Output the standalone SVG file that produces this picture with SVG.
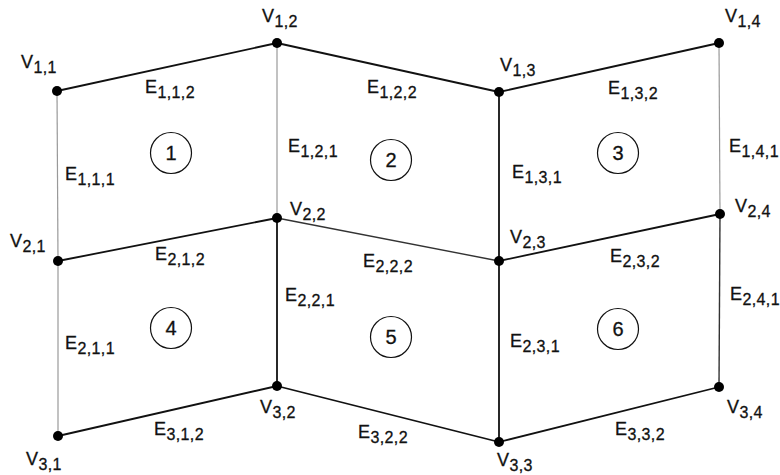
<svg xmlns="http://www.w3.org/2000/svg" width="780" height="475" viewBox="0 0 780 475">
<style>
  .e{stroke:#111;stroke-width:1.8;fill:none}
  .t{stroke:#999;stroke-width:1.2;fill:none}
  .d{stroke:#333;stroke-width:1.4;fill:none}
  .v{fill:#000}
  .lbl{font-family:"Liberation Sans",Arial,sans-serif;font-size:18px;fill:#111;stroke:#111;stroke-width:0.3;letter-spacing:0.4px}
  .sub{font-size:16px}
  .c{fill:none;stroke:#111;stroke-width:1.2}
  .n{font-family:"Liberation Sans",Arial,sans-serif;font-size:20px;fill:#111;stroke:#111;stroke-width:0.3;text-anchor:middle}
</style>
<rect width="780" height="475" fill="#fff"/>
<g id="connectors">
  <line class="e" x1="57" y1="91" x2="277" y2="43"/>
  <line class="e" x1="277" y1="43" x2="499" y2="92"/>
  <line class="e" x1="499" y1="92" x2="719" y2="43"/>
  <line class="e" x1="58" y1="261" x2="277" y2="218"/>
  <line class="d" x1="277" y1="218" x2="499" y2="261"/>
  <line class="e" x1="499" y1="261" x2="720" y2="214"/>
  <line class="e" x1="58" y1="436" x2="277" y2="386"/>
  <line class="e" x1="277" y1="386" x2="499" y2="442"/>
  <line class="e" x1="499" y1="442" x2="719" y2="387"/>
  <line class="t" x1="57" y1="91" x2="58" y2="261"/>
  <line class="t" x1="58" y1="261" x2="58" y2="436"/>
  <line class="t" x1="277" y1="43" x2="277" y2="218"/>
  <line class="e" x1="277" y1="218" x2="277" y2="386"/>
  <line class="e" x1="499" y1="92" x2="499" y2="261"/>
  <line class="e" x1="499" y1="261" x2="499" y2="442"/>
  <line class="t" x1="719" y1="43" x2="720" y2="214"/>
  <line class="d" x1="720" y1="214" x2="719" y2="387"/>
</g>
<g id="edge-labels">
  <text class="lbl" x="145" y="93">E<tspan class="sub" dy="5">1,1,2</tspan></text>
  <text class="lbl" x="65" y="180">E<tspan class="sub" dy="5">1,1,1</tspan></text>
  <text class="lbl" x="367" y="93">E<tspan class="sub" dy="5">1,2,2</tspan></text>
  <text class="lbl" x="288" y="152">E<tspan class="sub" dy="5">1,2,1</tspan></text>
  <text class="lbl" x="608" y="94">E<tspan class="sub" dy="5">1,3,2</tspan></text>
  <text class="lbl" x="512" y="178">E<tspan class="sub" dy="5">1,3,1</tspan></text>
  <text class="lbl" x="729" y="152">E<tspan class="sub" dy="5">1,4,1</tspan></text>
  <text class="lbl" x="155" y="260">E<tspan class="sub" dy="5">2,1,2</tspan></text>
  <text class="lbl" x="65" y="349">E<tspan class="sub" dy="5">2,1,1</tspan></text>
  <text class="lbl" x="363" y="267">E<tspan class="sub" dy="5">2,2,2</tspan></text>
  <text class="lbl" x="285" y="301">E<tspan class="sub" dy="5">2,2,1</tspan></text>
  <text class="lbl" x="610" y="262">E<tspan class="sub" dy="5">2,3,2</tspan></text>
  <text class="lbl" x="510" y="347">E<tspan class="sub" dy="5">2,3,1</tspan></text>
  <text class="lbl" x="730" y="300">E<tspan class="sub" dy="5">2,4,1</tspan></text>
  <text class="lbl" x="154" y="435">E<tspan class="sub" dy="5">3,1,2</tspan></text>
  <text class="lbl" x="358" y="438">E<tspan class="sub" dy="5">3,2,2</tspan></text>
  <text class="lbl" x="615" y="435">E<tspan class="sub" dy="5">3,3,2</tspan></text>
</g>
<g id="v11"><circle class="v" cx="57" cy="91" r="5"/><text class="lbl" x="21" y="68">V<tspan class="sub" dy="5">1,1</tspan></text></g>
<g id="v12"><circle class="v" cx="277" cy="43" r="5"/><text class="lbl" x="262" y="22">V<tspan class="sub" dy="5">1,2</tspan></text></g>
<g id="v13"><circle class="v" cx="499" cy="92" r="5"/><text class="lbl" x="500" y="71">V<tspan class="sub" dy="5">1,3</tspan></text></g>
<g id="v14"><circle class="v" cx="719" cy="43" r="5"/><text class="lbl" x="725" y="22">V<tspan class="sub" dy="5">1,4</tspan></text></g>
<g id="v21"><circle class="v" cx="58" cy="261" r="5"/><text class="lbl" x="10" y="247">V<tspan class="sub" dy="5">2,1</tspan></text></g>
<g id="v22"><circle class="v" cx="277" cy="218" r="5"/><text class="lbl" x="290" y="215">V<tspan class="sub" dy="5">2,2</tspan></text></g>
<g id="v23"><circle class="v" cx="499" cy="261" r="5"/><text class="lbl" x="510" y="243">V<tspan class="sub" dy="5">2,3</tspan></text></g>
<g id="v24"><circle class="v" cx="720" cy="214" r="5"/><text class="lbl" x="735" y="212">V<tspan class="sub" dy="5">2,4</tspan></text></g>
<g id="v31"><circle class="v" cx="58" cy="436" r="5"/><text class="lbl" x="26" y="465">V<tspan class="sub" dy="5">3,1</tspan></text></g>
<g id="v32"><circle class="v" cx="277" cy="386" r="5"/><text class="lbl" x="260" y="413">V<tspan class="sub" dy="5">3,2</tspan></text></g>
<g id="v33"><circle class="v" cx="499" cy="442" r="5"/><text class="lbl" x="497" y="466">V<tspan class="sub" dy="5">3,3</tspan></text></g>
<g id="v34"><circle class="v" cx="719" cy="387" r="5"/><text class="lbl" x="727" y="413">V<tspan class="sub" dy="5">3,4</tspan></text></g>
<g id="f1"><circle class="c" cx="171" cy="153" r="20.5"/><text class="n" x="171" y="160">1</text></g>
<g id="f2"><circle class="c" cx="391" cy="160" r="20.5"/><text class="n" x="391" y="167">2</text></g>
<g id="f3"><circle class="c" cx="618" cy="153" r="20.5"/><text class="n" x="618" y="160">3</text></g>
<g id="f4"><circle class="c" cx="171" cy="328" r="20.5"/><text class="n" x="171" y="335">4</text></g>
<g id="f5"><circle class="c" cx="391" cy="337" r="20.5"/><text class="n" x="391" y="344">5</text></g>
<g id="f6"><circle class="c" cx="618" cy="329" r="20.5"/><text class="n" x="618" y="336">6</text></g>
</svg>
